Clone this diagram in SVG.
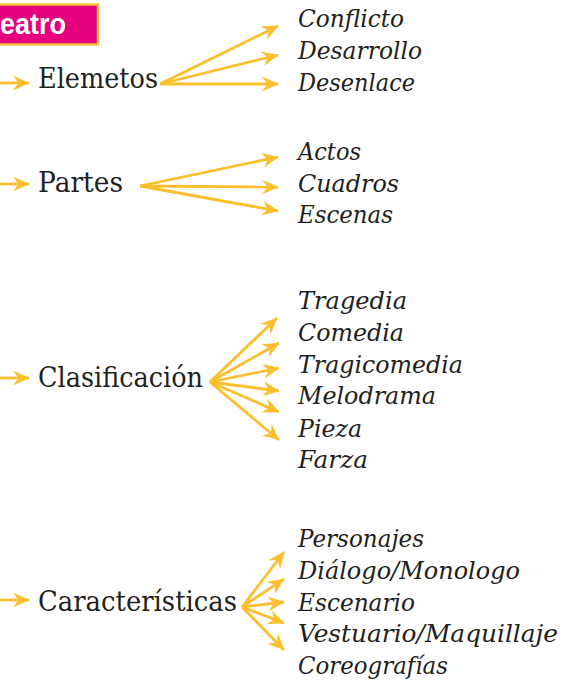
<svg xmlns="http://www.w3.org/2000/svg" width="561" height="680" viewBox="0 0 561 680">
<style>
.lbl{font-family:"DejaVu Serif","Liberation Serif",serif;font-size:27px;fill:#231f20}
.it{font-family:"DejaVu Serif","Liberation Serif",serif;font-style:italic;font-size:24px;fill:#231f20}
.title{font-family:"Liberation Sans",Arial,sans-serif;font-weight:bold;font-size:30px;fill:#ffffff}
.c line{stroke:#fbbf2e;stroke-width:2.8;fill:none;marker-end:url(#ah)}
</style>
<defs>
<marker id="ah" viewBox="-18 -9 19 18" refX="0" refY="0" markerWidth="19" markerHeight="18" orient="auto" markerUnits="userSpaceOnUse">
<path d="M0.5,0 L-16,-7.5 L-10.5,0 L-16,7.5 Z" fill="#fbbf2e"/>
</marker>
</defs>
<g id="title">
<rect x="-5" y="4.5" width="103" height="40" fill="#e5007d" stroke="#f9c13a" stroke-width="2.5"/>
<text class="title" x="0" y="34" textLength="66" lengthAdjust="spacingAndGlyphs">eatro</text>
</g>
<g class="c" id="connectors">
<line x1="0" y1="83" x2="29" y2="83"/>
<line x1="160" y1="84" x2="278" y2="26"/>
<line x1="160" y1="84" x2="278" y2="55"/>
<line x1="160" y1="84" x2="278" y2="84"/>
<line x1="0" y1="184" x2="29" y2="184"/>
<line x1="140" y1="186" x2="278" y2="157"/>
<line x1="140" y1="186" x2="278" y2="187"/>
<line x1="140" y1="186" x2="278" y2="211"/>
<line x1="0" y1="378" x2="29" y2="378"/>
<line x1="210" y1="382" x2="277" y2="318"/>
<line x1="210" y1="382" x2="279" y2="343"/>
<line x1="210" y1="382" x2="279" y2="368"/>
<line x1="210" y1="382" x2="279" y2="391"/>
<line x1="210" y1="382" x2="279" y2="412"/>
<line x1="210" y1="382" x2="279" y2="440"/>
<line x1="0" y1="600" x2="29" y2="600"/>
<line x1="242" y1="607" x2="284" y2="552"/>
<line x1="242" y1="607" x2="284" y2="579"/>
<line x1="242" y1="607" x2="284" y2="602"/>
<line x1="242" y1="607" x2="284" y2="623"/>
<line x1="242" y1="607" x2="284" y2="650"/>
</g>
<g id="elemetos">
<text class="lbl" x="38" y="88" textLength="120" lengthAdjust="spacingAndGlyphs">Elemetos</text>
</g>
<g id="elemetos-items">
<text class="it" x="298" y="27" textLength="106" lengthAdjust="spacingAndGlyphs">Conflicto</text>
<text class="it" x="298" y="59" textLength="124" lengthAdjust="spacingAndGlyphs">Desarrollo</text>
<text class="it" x="298" y="91" textLength="117" lengthAdjust="spacingAndGlyphs">Desenlace</text>
</g>
<g id="partes">
<text class="lbl" x="38" y="192" textLength="85" lengthAdjust="spacingAndGlyphs">Partes</text>
</g>
<g id="partes-items">
<text class="it" x="298" y="160" textLength="63" lengthAdjust="spacingAndGlyphs">Actos</text>
<text class="it" x="298" y="192" textLength="101" lengthAdjust="spacingAndGlyphs">Cuadros</text>
<text class="it" x="298" y="223" textLength="95" lengthAdjust="spacingAndGlyphs">Escenas</text>
</g>
<g id="clasificacion">
<text class="lbl" x="38" y="387" textLength="165" lengthAdjust="spacingAndGlyphs">Clasificación</text>
</g>
<g id="clasificacion-items">
<text class="it" x="298" y="309" textLength="109" lengthAdjust="spacingAndGlyphs">Tragedia</text>
<text class="it" x="298" y="341" textLength="106" lengthAdjust="spacingAndGlyphs">Comedia</text>
<text class="it" x="298" y="373" textLength="165" lengthAdjust="spacingAndGlyphs">Tragicomedia</text>
<text class="it" x="298" y="404" textLength="138" lengthAdjust="spacingAndGlyphs">Melodrama</text>
<text class="it" x="298" y="437" textLength="64" lengthAdjust="spacingAndGlyphs">Pieza</text>
<text class="it" x="298" y="468" textLength="70" lengthAdjust="spacingAndGlyphs">Farza</text>
</g>
<g id="caracteristicas">
<text class="lbl" x="38" y="611" textLength="199" lengthAdjust="spacingAndGlyphs">Características</text>
</g>
<g id="caracteristicas-items">
<text class="it" x="298" y="547" textLength="126" lengthAdjust="spacingAndGlyphs">Personajes</text>
<text class="it" x="298" y="579" textLength="222" lengthAdjust="spacingAndGlyphs">Diálogo/Monologo</text>
<text class="it" x="298" y="611" textLength="117" lengthAdjust="spacingAndGlyphs">Escenario</text>
<text class="it" x="298" y="642" textLength="260" lengthAdjust="spacingAndGlyphs">Vestuario/Maquillaje</text>
<text class="it" x="298" y="674" textLength="150" lengthAdjust="spacingAndGlyphs">Coreografías</text>
</g>
</svg>
